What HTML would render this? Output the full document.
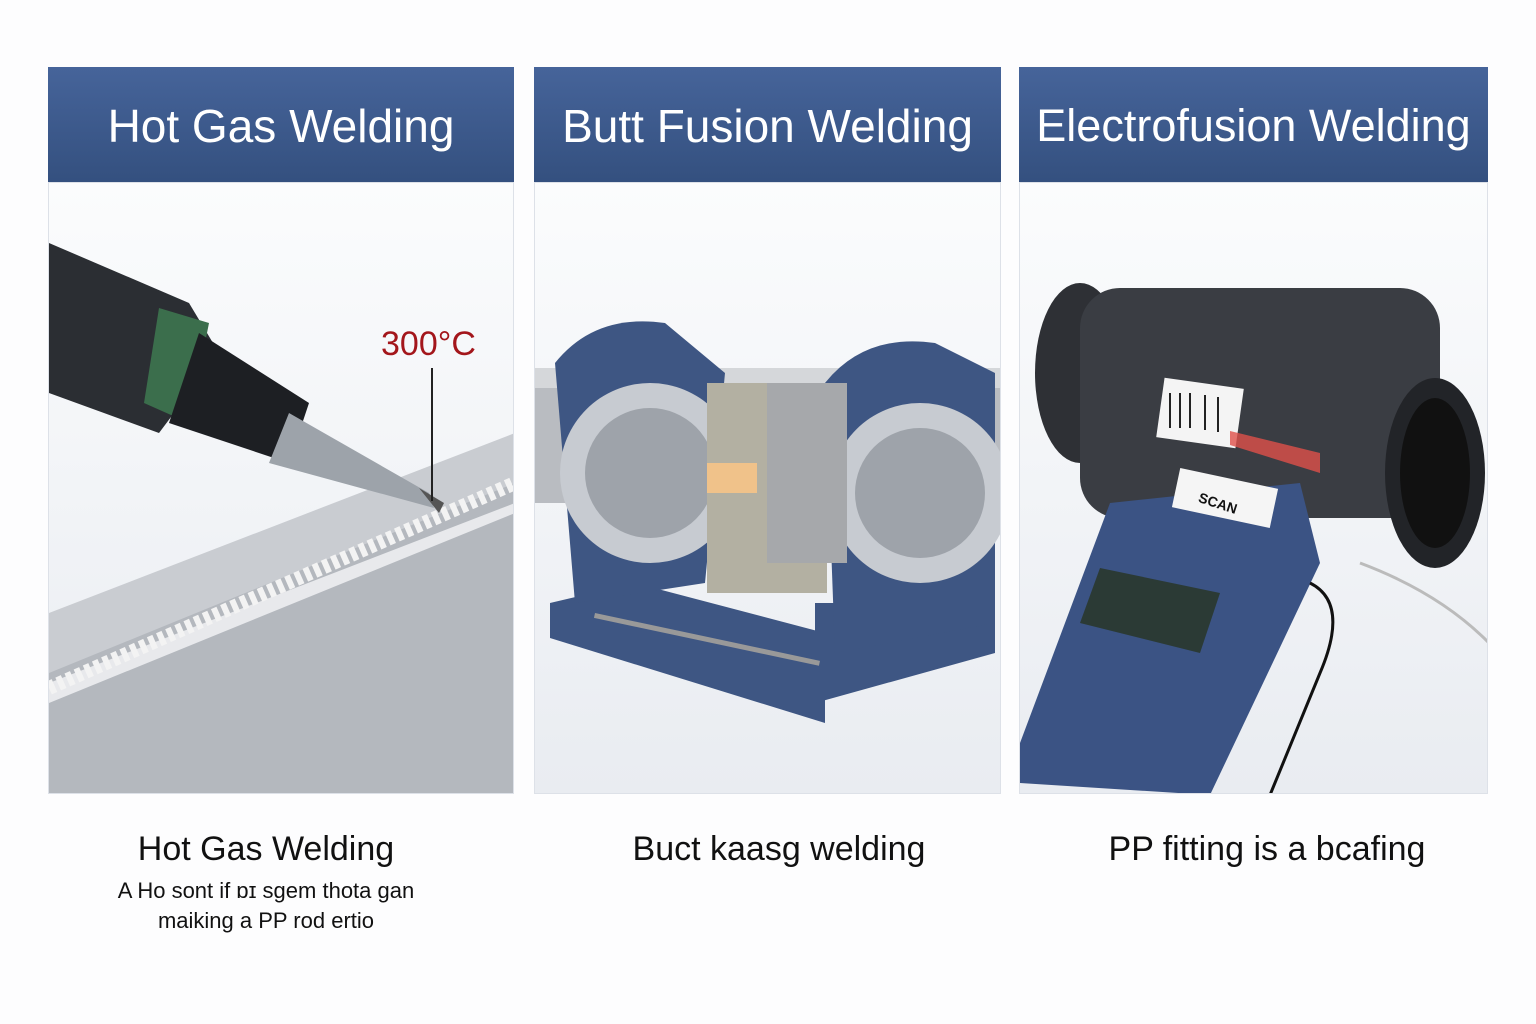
<!DOCTYPE html>
<html><head><meta charset="utf-8"><style>
body{margin:0;width:1536px;height:1024px;background:#fdfdfe;font-family:"Liberation Sans",sans-serif;position:relative;overflow:hidden}
.hd{position:absolute;top:67px;height:115px;background:linear-gradient(#46649a,#34507f);color:#fff;font-size:46px;line-height:118px;text-align:center}
.pn{position:absolute;top:182px;height:612px;border:1px solid #dde1e8;box-sizing:border-box;overflow:hidden;background:linear-gradient(#fbfcfd,#e9ecf1)}
.cap{position:absolute;text-align:center;color:#111;font-size:34px}
.sub{position:absolute;text-align:center;color:#111;font-size:22px;line-height:30px}
</style></head><body>
<div class="hd" style="left:48px;width:466px">Hot Gas Welding</div>
<div class="hd" style="left:534px;width:467px">Butt Fusion Welding</div>
<div class="hd" style="left:1019px;width:469px;font-size:45px">Electrofusion Welding</div>

<div class="pn" style="left:48px;width:466px">
<svg width="466" height="612">
<polygon points="0,430 466,250 466,612 0,612" fill="#c9ccd1"/>
<polygon points="0,490 466,300 466,612 0,612" fill="#b4b8be"/>
<polygon points="0,500 466,320 466,330 0,520" fill="#e8e9ec"/>
<line x1="0" y1="505" x2="466" y2="300" stroke="#f3f3f3" stroke-width="14" stroke-dasharray="6 4"/>
<polygon points="0,60 140,120 170,170 110,250 0,210" fill="#2b2e33"/>
<polygon points="110,125 160,140 140,240 95,220" fill="#3b6e4c"/>
<polygon points="150,150 260,220 240,280 120,240" fill="#1d1f23"/>
<polygon points="240,230 380,310 385,325 220,280" fill="#9da3aa"/>
<polygon points="370,305 395,320 390,330" fill="#555"/>
<line x1="383" y1="185" x2="383" y2="318" stroke="#222" stroke-width="2"/>
<text x="332" y="172" font-size="34" fill="#a3161b" font-family="Liberation Sans">300°C</text>
</svg></div>

<div class="pn" style="left:534px;width:467px">
<svg width="467" height="612">
<rect x="0" y="185" width="467" height="135" fill="#b9bcc1"/>
<rect x="0" y="185" width="467" height="20" fill="#d5d7da"/>
<polygon points="15,420 100,400 290,450 290,540 15,455" fill="#3e5683"/>
<polygon points="280,420 460,420 460,470 280,520" fill="#3e5683"/>
<rect x="60" y="430" width="230" height="5" fill="#999" transform="rotate(12 60 430)"/>
<path d="M20,180 Q60,130 130,140 L190,190 L170,400 L40,420 Z" fill="#3e5683"/>
<circle cx="115" cy="290" r="90" fill="#c7cbd1"/><circle cx="115" cy="290" r="65" fill="#9ea3aa"/>
<path d="M290,200 Q330,150 400,160 L460,190 L460,440 L300,470 Z" fill="#3e5683"/>
<circle cx="385" cy="310" r="90" fill="#c7cbd1"/><circle cx="385" cy="310" r="65" fill="#9ea3aa"/>
<rect x="172" y="200" width="120" height="210" fill="#b3b0a2"/>
<rect x="232" y="200" width="80" height="180" fill="#a6a8ab"/>
<rect x="172" y="280" width="50" height="30" fill="#f0c28a"/>
</svg></div>

<div class="pn" style="left:1019px;width:469px">
<svg width="469" height="612">
<ellipse cx="60" cy="190" rx="45" ry="90" fill="#2e3035"/>
<rect x="60" y="105" width="360" height="230" rx="40" fill="#3a3d43"/>
<ellipse cx="415" cy="290" rx="50" ry="95" fill="#222428"/>
<ellipse cx="415" cy="290" rx="35" ry="75" fill="#111"/>
<rect x="140" y="200" width="80" height="60" fill="#f4f4f4" transform="rotate(8 180 230)"/>
<g stroke="#222" stroke-width="2"><line x1="150" y1="210" x2="150" y2="245"/><line x1="160" y1="210" x2="160" y2="245"/><line x1="170" y1="210" x2="170" y2="245"/><line x1="185" y1="212" x2="185" y2="247"/><line x1="198" y1="214" x2="198" y2="249"/></g>
<polygon points="210,248 300,270 300,290 210,262" fill="#e0504a" opacity="0.8"/>
<path d="M0,600 L0,560 L90,320 L280,300 L300,380 L190,612 Z" fill="#3b5384"/>
<rect x="155" y="295" width="100" height="40" fill="#f5f5f5" transform="rotate(12 205 315)"/>
<text x="180" y="327" font-size="14" font-weight="bold" fill="#111" transform="rotate(18 205 315)">SCAN</text>
<polygon points="80,385 200,410 180,470 60,440" fill="#2b3a35"/>
<path d="M290,400 Q330,420 300,490 L250,612" stroke="#111" stroke-width="3" fill="none"/>
<path d="M340,380 Q420,410 469,460" stroke="#bbb" stroke-width="3" fill="none"/>
</svg></div>

<div class="cap" style="left:48px;width:436px;top:830px">Hot Gas Welding</div>
<div class="sub" style="left:48px;width:436px;top:876px">A Ho sont if ɒɪ sgem thota gan<br>maiking a PP rod ertio</div>
<div class="cap" style="left:534px;width:490px;top:830px">Buct kaasg welding</div>
<div class="cap" style="left:1019px;width:496px;top:830px">PP fitting is a bcafing</div>
</body></html>
